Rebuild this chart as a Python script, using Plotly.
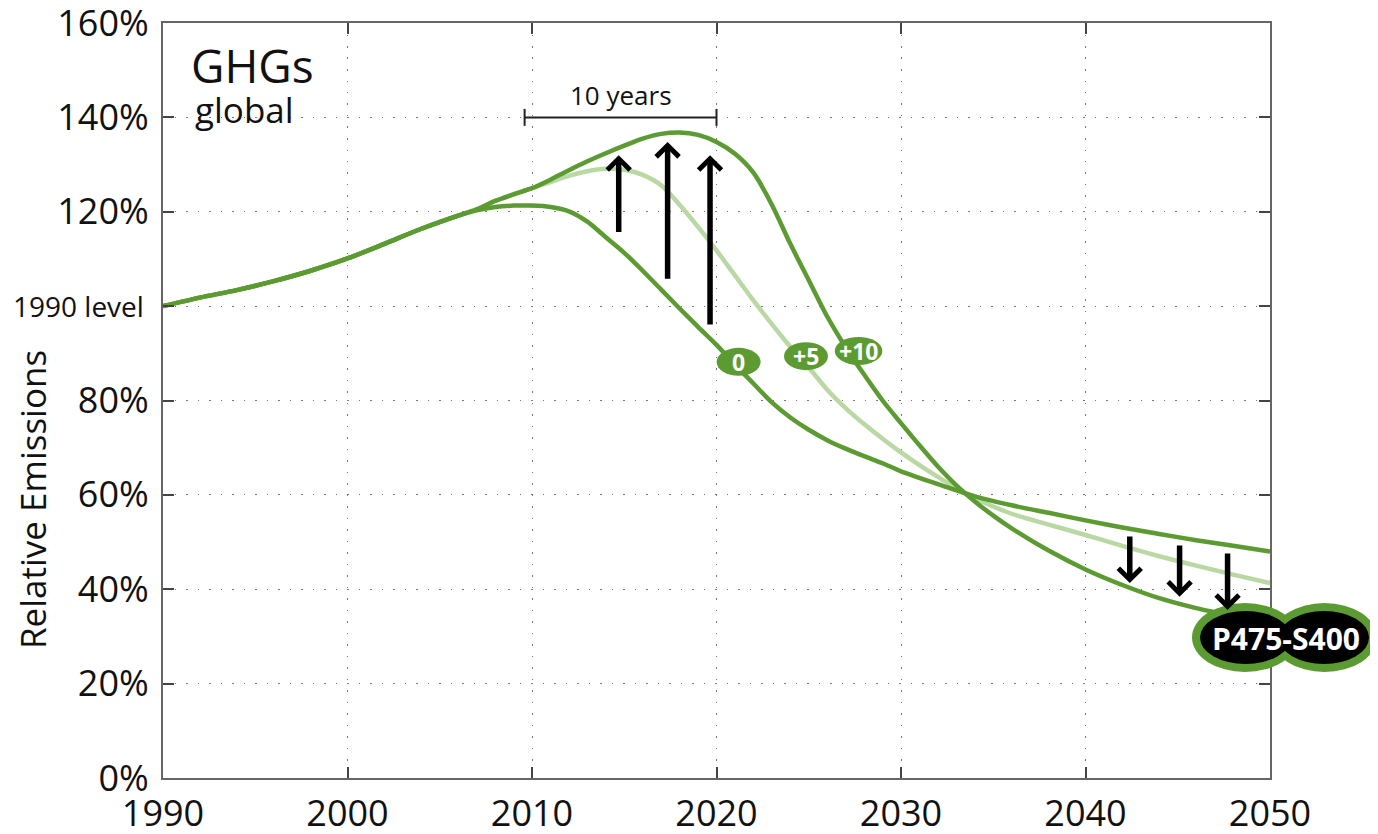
import plotly.graph_objects as go

# ---------------- data ----------------
common_years = [1990, 1992, 1994, 1996, 1998, 2000, 2002, 2004, 2006]
common_vals = [100.0, 101.8, 103.4, 105.3, 107.5, 110.1, 113.2, 116.4, 119.2]

years_0 = [2007, 2008, 2009, 2010, 2011, 2012, 2013, 2014, 2015, 2016, 2017, 2018, 2019,
           2020, 2021, 2022, 2023, 2024, 2025, 2026, 2027, 2028, 2029, 2030, 2032, 2034,
           2036, 2038, 2040, 2042, 2044, 2046, 2048, 2050]
vals_0 = [120.3, 121.0, 121.3, 121.3, 121.0, 120.1, 117.9, 114.6, 111.3, 107.5, 103.5, 99.5, 95.6,
          91.8, 87.6, 83.6, 79.6, 76.4, 73.8, 71.6, 69.8, 68.2, 66.7, 65.0, 62.3, 59.7,
          57.8, 56.2, 54.6, 53.1, 51.7, 50.4, 49.2, 48.0]

years_5 = [2007, 2008, 2009, 2010, 2011, 2012, 2013, 2014, 2015, 2016, 2017, 2018, 2019,
           2020, 2021, 2022, 2023, 2024, 2025, 2026, 2027, 2028, 2029, 2030, 2031, 2032,
           2033, 2034, 2036, 2038, 2040, 2042, 2044, 2046, 2048, 2050]
vals_5 = [120.5, 122.3, 123.7, 125.0, 126.3, 127.6, 128.6, 129.1, 128.9, 127.8, 125.6, 121.5, 116.8,
          111.8, 106.5, 101.2, 96.2, 91.4, 87.0, 82.3, 78.4, 75.0, 71.9, 69.0, 66.3, 63.8,
          61.4, 59.3, 56.0, 53.7, 51.5, 49.2, 47.0, 45.0, 43.1, 41.3]

years_10 = [2007, 2008, 2009, 2010, 2011, 2012, 2013, 2014, 2015, 2016, 2017, 2018, 2019,
            2020, 2021, 2022, 2023, 2024, 2025, 2026, 2027, 2028, 2029, 2030, 2031, 2032,
            2033, 2034, 2035, 2036, 2038, 2040, 2042, 2044, 2046, 2048, 2050]
vals_10 = [120.5, 122.3, 123.7, 125.0, 126.8, 128.8, 130.7, 132.4, 134.0, 135.5, 136.5, 136.8, 136.3,
           134.8, 132.3, 128.3, 121.5, 113.2, 105.5, 97.8, 91.3, 85.5, 80.0, 75.2, 70.5, 66.0,
           62.0, 58.6, 55.6, 52.9, 48.2, 44.2, 40.9, 38.1, 36.0, 34.4, 33.2]

x_ticks = [1990, 2000, 2010, 2020, 2030, 2040, 2050]
y_ticks = [0, 20, 40, 60, 80, 100, 120, 140, 160]
y_tick_text = ["0%", "20%", "40%", "60%", "80%", "", "120%", "140%", "160%"]

# arrows: (x, tail value, head value)
up_arrows = [(2014.7, 115.4, 132.0), (2017.35, 105.5, 134.8), (2019.65, 95.8, 132.0)]
down_arrows = [(2042.4, 51.5, 41.3), (2045.1, 49.6, 38.4), (2047.7, 47.9, 35.6)]

bubble_labels = ["0", "+5", "+10"]
bubble_x = [2021.2, 2024.85, 2027.7]
bubble_y = [88.2, 89.4, 90.5]

DARK = "#5b9b32"
LIGHT = "#b9d8a4"
FONT = "Open Sans"

# ---------------- figure ----------------
OFF = 8                      # page body margin
W, H = 1370, 826
ML, MT = 155, 15
PW, PH = 1107, 755
MR, MB = W - ML - PW, H - MT - PH


def px2paper(px, py):
    """reference page pixel -> paper coordinates"""
    fx, fy = px - OFF, py - OFF
    return (fx - ML) / PW, (MT + PH - fy) / PH


fig = go.Figure()


def full(years, vals):
    return common_years + years, common_vals + vals


for yrs, vals, col in [(years_5, vals_5, LIGHT), (years_0, vals_0, DARK), (years_10, vals_10, DARK)]:
    xs, ys = full(yrs, vals)
    fig.add_trace(go.Scatter(x=xs, y=ys, mode="lines",
                             line=dict(color=col, width=4.5, shape="spline", smoothing=0.8),
                             hoverinfo="skip", showlegend=False))

annotations = []
shapes = []


def txt(x, y, text, size, xref="x", yref="y", xanchor="center", color="#111", angle=0):
    annotations.append(dict(x=x, y=y, xref=xref, yref=yref, text=text, showarrow=False,
                            xanchor=xanchor, yanchor="middle", textangle=angle,
                            font=dict(family=FONT, size=size, color=color)))


# arrows
for xa, tail, head in up_arrows + down_arrows:
    annotations.append(dict(x=xa, y=head, ax=xa, ay=tail, xref="x", yref="y", axref="x", ayref="y",
                            text="", showarrow=True, arrowhead=4, arrowsize=0.8, arrowwidth=5.5,
                            arrowcolor="black", standoff=0, startstandoff=0))

# small labelled bubbles
bw = 44 / (PW / 60.0)
bh = 28 / (PH / 160.0)
for lab, bx, by in zip(bubble_labels, bubble_x, bubble_y):
    w = bw * (1.08 if lab == "+10" else 1.0)
    shapes.append(dict(type="circle", xref="x", yref="y", x0=bx - w / 2, x1=bx + w / 2,
                       y0=by - bh / 2, y1=by + bh / 2, fillcolor=DARK, line=dict(width=0)))
    txt(bx, by, "<b>%s</b>" % lab, 23, color="white")

# P475-S400 double bubble
for (x0, y0, x1, y1) in [(1192, 603, 1298, 672), (1272, 603, 1377, 672)]:
    a0, b0 = px2paper(x0, y1)
    a1, b1 = px2paper(x1, y0)
    shapes.append(dict(type="circle", xref="paper", yref="paper", x0=a0, x1=a1, y0=b0, y1=b1,
                       fillcolor=DARK, line=dict(width=0), layer="above"))
for (x0, y0, x1, y1) in [(1200, 611, 1291, 664), (1279, 611, 1369, 664)]:
    a0, b0 = px2paper(x0, y1)
    a1, b1 = px2paper(x1, y0)
    shapes.append(dict(type="circle", xref="paper", yref="paper", x0=a0, x1=a1, y0=b0, y1=b1,
                       fillcolor="black", line=dict(width=0), layer="above"))
tx, ty = px2paper(1286, 638)
txt(tx, ty, "<b>P475-S400</b>", 30, xref="paper", yref="paper", color="white")

# 10 years bracket
shapes.append(dict(type="line", xref="x", yref="y", x0=2009.6, x1=2020.0, y0=140, y1=140,
                   line=dict(color="#222", width=2)))
for xc in (2009.6, 2020.0):
    shapes.append(dict(type="line", xref="x", yref="y", x0=xc, x1=xc, y0=138.2, y1=141.8,
                       line=dict(color="#222", width=2)))
txt(2014.8, 144.8, "10 years", 26)

# titles
txt(1991.4, 151.2, "GHGs", 46, xanchor="left")
txt(1991.6, 141.6, "global", 35, xanchor="left")
lx, _ = px2paper(146, 0)
txt(lx, 100, "1990 level", 28, xref="paper", xanchor="right")
rx, ry = px2paper(32, 500)
txt(rx, ry, "Relative Emissions", 35, xref="paper", yref="paper", angle=-90)

axis_common = dict(showline=True, linecolor="#666", linewidth=2, mirror="ticks",
                   ticks="inside", ticklen=11, tickwidth=1.5, tickcolor="#444",
                   showgrid=True, gridcolor="#777", gridwidth=1.2, griddash="1.5px,10px",
                   zeroline=False, automargin=False, ticklabeloverflow="allow",
                   tickfont=dict(family=FONT, size=36, color="#111"))

fig.update_layout(
    width=W, height=H,
    margin=dict(l=ML, r=MR, t=MT, b=MB, autoexpand=False),
    paper_bgcolor="white", plot_bgcolor="white",
    xaxis=dict(range=[1990, 2050], tickvals=x_ticks, ticklabelstandoff=3, **axis_common),
    yaxis=dict(range=[0, 160], tickvals=y_ticks, ticktext=y_tick_text, ticklabelstandoff=5,
               **axis_common),
    shapes=shapes, annotations=annotations, showlegend=False,
)

fig.write_html("out.html")
